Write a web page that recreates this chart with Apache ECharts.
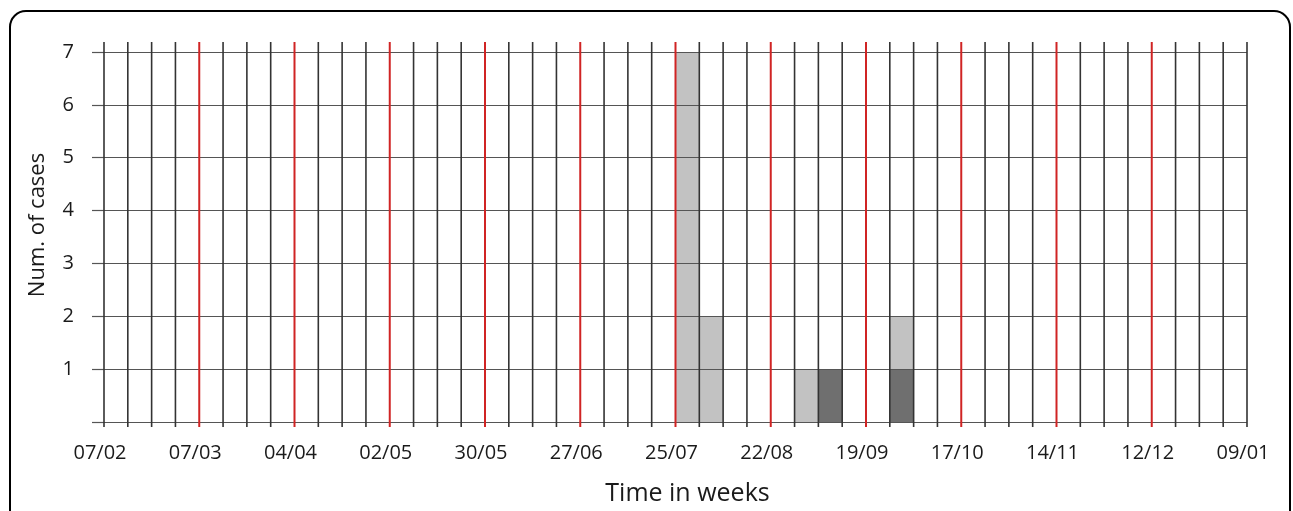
<!DOCTYPE html>
<html>
<head>
<meta charset="utf-8">
<script src="https://cdn.jsdelivr.net/npm/echarts@6/dist/echarts.min.js"></script>
<style>
html,body{margin:0;padding:0;background:#fff;}
#chart{width:1293px;height:511px;}
</style>
</head>
<body>
<div id="chart"></div>
<script>
// Tick labels every 4 weeks (week index 0..48)
var dateLabels = ['07/02','07/03','04/04','02/05','30/05','27/06','25/07','22/08','19/09','17/10','14/11','12/12','09/01'];
// Weekly grid positions and the red month-marker weeks
var weekLines = [];
for (var i = 0; i <= 48; i++) weekLines.push(i);
var redWeeks = [4,8,12,16,20,24,28,32,36,40,44];
// Bars: week index (start), light grey cases, dark grey cases
var barWeeks   = [24, 25, 29, 30, 33];
var lightCases = [7, 2, 1, 0, 1];
var darkCases  = [0, 0, 0, 1, 1];

var barData = barWeeks.map(function (w, i) { return [w, lightCases[i], darkCases[i]]; });

var chart = echarts.init(document.getElementById('chart'));
var FONT = 'Open Sans';
chart.setOption({
  animation: false,
  backgroundColor: '#ffffff',
  graphic: [{
    type: 'rect', z: -10,
    shape: { x: 10, y: 11, width: 1280, height: 620, r: 16 },
    style: { fill: 'none', stroke: '#000', lineWidth: 2 }
  }],
  grid: { left: 104, right: 46, top: 52, bottom: 88 },
  xAxis: {
    type: 'value', min: 0, max: 48, interval: 4, z: 5,
    axisLine: { show: false }, axisTick: { show: false }, splitLine: { show: false },
    axisLabel: {
      margin: 21, color: '#1a1a1a', fontFamily: FONT, fontSize: 20, padding: [0, 8, 0, 0],
      formatter: function (v) { return dateLabels[Math.round(v / 4)] || ''; }
    },
    name: 'Time in weeks', nameLocation: 'middle', nameGap: 59,
    nameTextStyle: { color: '#1a1a1a', fontFamily: FONT, fontSize: 25, padding: [0, 0, 0, 24] }
  },
  yAxis: {
    type: 'value', min: 0, max: 7, interval: 1, z: 5,
    axisLine: { show: false },
    axisTick: { show: true, length: 12, lineStyle: { color: '#555', width: 1.2 } },
    splitLine: { show: true, lineStyle: { color: '#555', width: 1.2 } },
    axisLabel: {
      margin: 30, color: '#1a1a1a', fontFamily: FONT, fontSize: 20,
      formatter: function (v) { return v === 0 ? '' : String(v); }
    },
    name: 'Num. of cases', nameLocation: 'middle', nameGap: 55, nameRotate: 90,
    nameTextStyle: { color: '#1a1a1a', fontFamily: FONT, fontSize: 22, padding: [0, 0, 0, 24] }
  },
  series: [{
    type: 'custom', z: 1, clip: false,
    data: barData,
    renderItem: function (params, api) {
      var w = api.value(0), light = api.value(1), dark = api.value(2);
      var children = [];
      var x0 = api.coord([w, 0])[0], x1 = api.coord([w + 1, 0])[0];
      if (dark > 0) {
        var yb = api.coord([w, 0])[1], yt = api.coord([w, dark])[1];
        children.push({ type: 'rect', shape: { x: x0, y: yt, width: x1 - x0, height: yb - yt }, style: { fill: '#6f6f6f' } });
      }
      if (light > 0) {
        var yb2 = api.coord([w, dark])[1], yt2 = api.coord([w, dark + light])[1];
        children.push({ type: 'rect', shape: { x: x0, y: yt2, width: x1 - x0, height: yb2 - yt2 }, style: { fill: '#c2c2c2' } });
      }
      return { type: 'group', children: children };
    }
  }, {
    type: 'custom', z: 10, clip: false, silent: true,
    data: weekLines.map(function (w) { return [w, redWeeks.indexOf(w) >= 0 ? 1 : 0]; }),
    renderItem: function (params, api) {
      var w = api.value(0), red = api.value(1) === 1;
      var top = api.coord([w, 7]), bot = api.coord([w, 0]);
      return {
        type: 'line',
        shape: { x1: top[0], y1: top[1] - 10, x2: bot[0], y2: bot[1] + 5 },
        style: { stroke: red ? '#d02424' : '#333333', lineWidth: red ? 2 : 1.6 }
      };
    }
  }]
});
</script>
</body>
</html>
